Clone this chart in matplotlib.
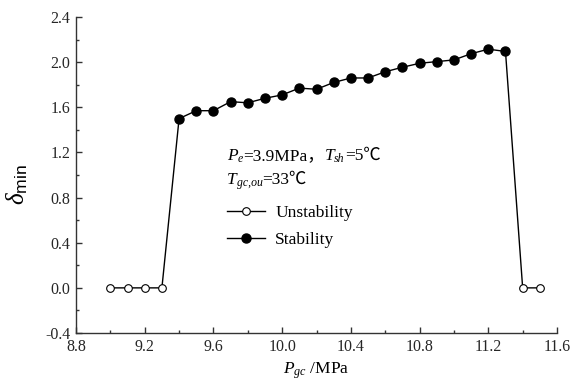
import matplotlib
matplotlib.use("Agg")
import matplotlib.pyplot as plt
from matplotlib.lines import Line2D
from matplotlib.ticker import MultipleLocator

FAM = ['Liberation Serif', 'Noto Sans CJK SC', 'DejaVu Serif']
plt.rcParams['font.family'] = FAM
plt.rcParams['mathtext.fontset'] = 'custom'
plt.rcParams['mathtext.rm'] = 'Liberation Serif'
plt.rcParams['mathtext.it'] = 'Liberation Serif:italic'
plt.rcParams['mathtext.sf'] = 'Liberation Sans'

# Data
p_unstable_low = [9.0, 9.1, 9.2, 9.3]
d_unstable_low = [0.0, 0.0, 0.0, 0.0]
p_stable = [9.4, 9.5, 9.6, 9.7, 9.8, 9.9, 10.0, 10.1, 10.2, 10.3,
            10.4, 10.5, 10.6, 10.7, 10.8, 10.9, 11.0, 11.1, 11.2, 11.3]
d_stable = [1.50, 1.57, 1.57, 1.65, 1.64, 1.68, 1.71, 1.77, 1.76, 1.82,
            1.86, 1.86, 1.915, 1.955, 1.99, 2.005, 2.02, 2.075, 2.115, 2.095]
p_unstable_high = [11.4, 11.5]
d_unstable_high = [0.0, 0.0]

x_ticks = [8.8, 9.2, 9.6, 10.0, 10.4, 10.8, 11.2, 11.6]
y_ticks = [-0.4, 0.0, 0.4, 0.8, 1.2, 1.6, 2.0, 2.4]
legend_labels = ['Unstability', 'Stability']

fig = plt.figure(figsize=(5.78, 3.87), dpi=100)
ax = fig.add_axes([0.1315, 0.1395, 0.8322, 0.8165])

p_all = p_unstable_low + p_stable + p_unstable_high
d_all = d_unstable_low + d_stable + d_unstable_high
ax.plot(p_all, d_all, color='black', lw=1.0, zorder=2)
open_style = dict(ls='none', marker='o', ms=5.5, mfc='white', mec='black', mew=0.8, zorder=3)
ax.plot(p_unstable_low, d_unstable_low, **open_style)
ax.plot(p_unstable_high, d_unstable_high, **open_style)
ax.plot(p_stable, d_stable, ls='none', marker='o', ms=6.5,
        mfc='black', mec='black', zorder=3)

ax.set_xlim(8.8, 11.6)
ax.set_ylim(-0.4, 2.4)
ax.set_xticks(x_ticks)
ax.set_yticks(y_ticks)
ax.set_xticklabels([f"{v:.1f}" for v in x_ticks])
ax.set_yticklabels([f"{v:.1f}" for v in y_ticks])
ax.xaxis.set_minor_locator(MultipleLocator(0.2))
ax.yaxis.set_minor_locator(MultipleLocator(0.2))
ax.tick_params(which='both', direction='in', labelsize=11.5, color='#333333',
               labelcolor='#262626')
ax.tick_params(which='major', length=4, width=1, pad=4)
ax.tick_params(which='minor', length=2, width=1)
for s in ['top', 'right']:
    ax.spines[s].set_visible(False)
for s in ['left', 'bottom']:
    ax.spines[s].set_color('#333333')
    ax.spines[s].set_linewidth(1.0)

ax.set_xlabel(r'$P_{gc}$ /MPa', fontsize=12.5, labelpad=4)
ax.set_ylabel(r'$\delta_{\mathsf{min}}$', fontsize=18)
ax.yaxis.set_label_coords(-0.095, 0.47)

handles = [
    Line2D([], [], color='black', lw=1.0, marker='o', ms=5.5, mfc='white', mec='black', mew=0.8),
    Line2D([], [], color='black', lw=1.0, marker='o', ms=6.5, mfc='black', mec='black'),
]
ax.legend(handles, legend_labels, loc='upper left',
          bbox_to_anchor=(0.2815, 0.454), frameon=False, fontsize=12.5,
          handlelength=2.2, handletextpad=0.57, labelspacing=0.62)

# condition annotation, built from runs of plain text (baseline aligned)
fig.canvas.draw()
renderer = fig.canvas.get_renderer()

def draw_run(parts, ax_x, ax_y):
    x_px, y_px = ax.transAxes.transform((ax_x, ax_y))
    W, H = fig.bbox.width, fig.bbox.height
    for s, size, style, dy in parts:
        t = fig.text(x_px / W, (y_px + dy) / H, s, fontsize=size, style=style,
                     va='baseline', ha='left', family=FAM)
        x_px += t.get_window_extent(renderer).width

MAIN, SUB = 12.5, 8.5
draw_run([('P', MAIN, 'italic', 0), ('e', SUB, 'italic', -2),
          ('=3.9MPa，', MAIN, 'normal', 0),
          ('T', MAIN, 'italic', 0), ('sh', SUB, 'italic', -2),
          ('=5℃', MAIN, 'normal', 0)], 0.314, 0.547)
draw_run([('T', MAIN, 'italic', 0), ('gc,ou', SUB, 'italic', -2),
          ('=33℃', MAIN, 'normal', 0)], 0.314, 0.472)

fig.savefig('out.png', dpi=100)
